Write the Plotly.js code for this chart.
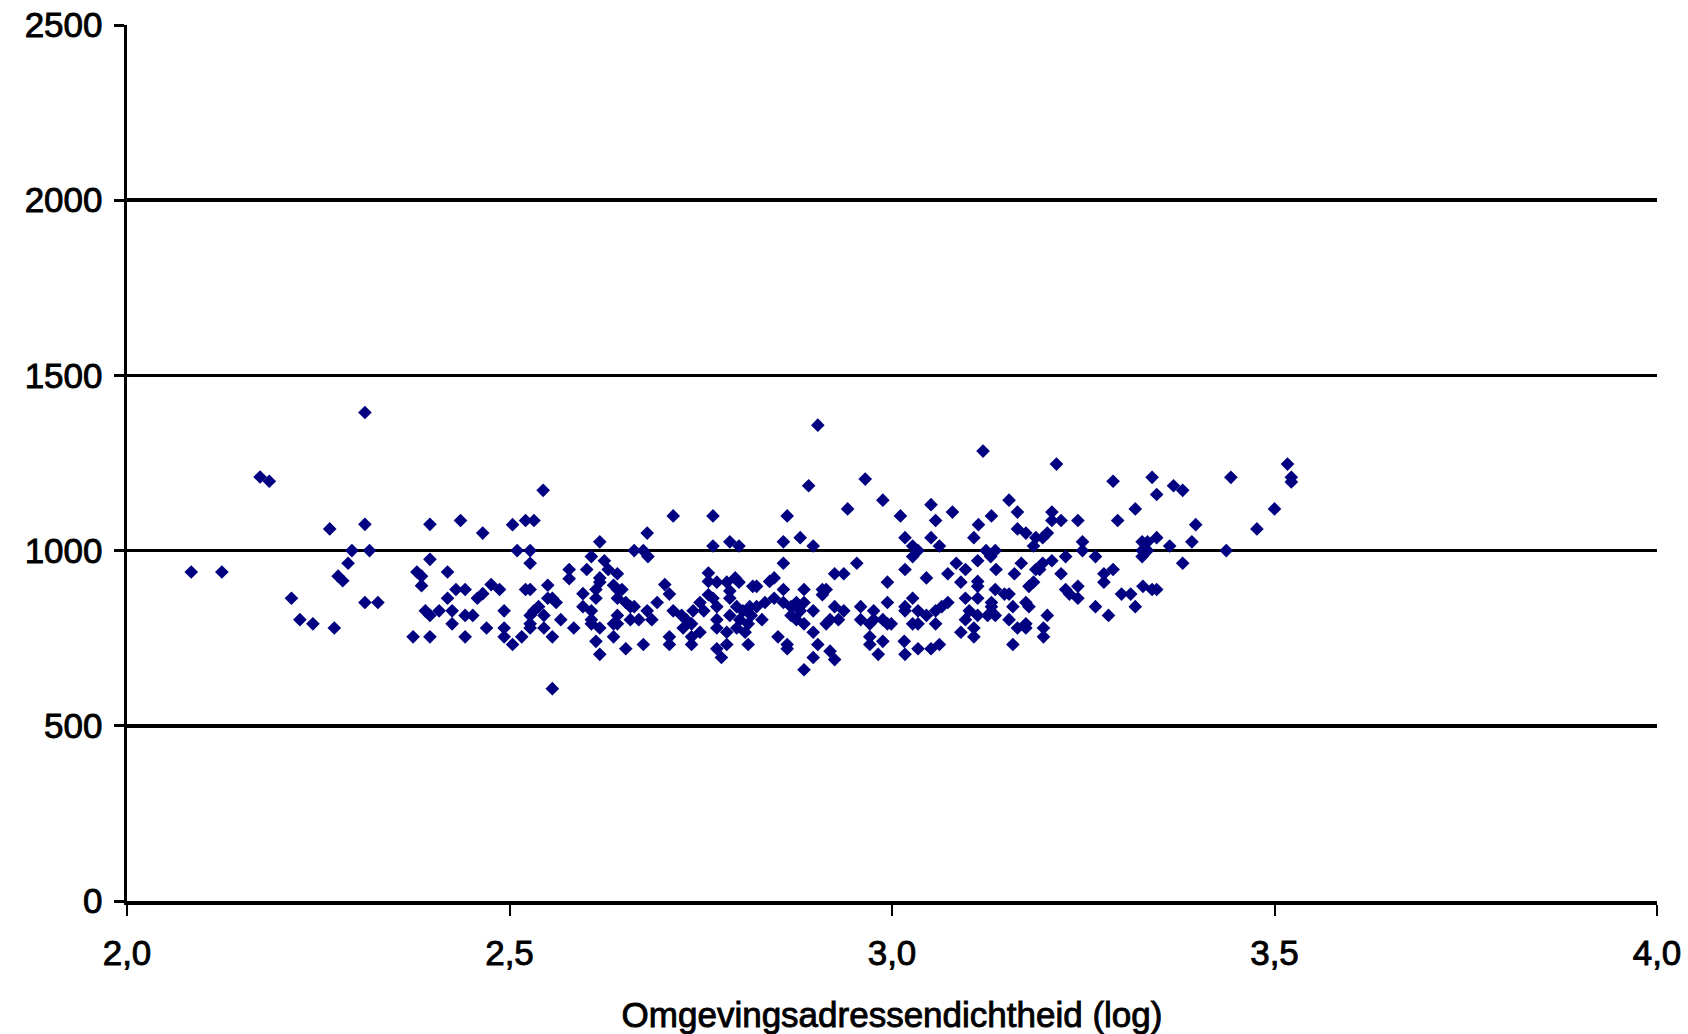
<!DOCTYPE html>
<html>
<head>
<meta charset="utf-8">
<script src="https://cdn.plot.ly/plotly-3.0.1.min.js"></script>
<style>
html,body{margin:0;padding:0;background:#fff;}
#chart{width:1688px;height:1034px;}
#chart .xtick text, #chart .ytick text, #chart .xtitle {stroke:#000; stroke-width:0.9px;}
</style>
</head>
<body>
<div id="chart"></div>
<script>
// Omgevingsadressendichtheid (log) vs value
const xValues = [
2.311,2.174,2.186,2.265,2.311,2.396,2.436,2.294,2.317,2.289,2.276,2.282,2.084,2.124,2.396,2.379,2.385,2.385,2.419,2.430,2.442,2.419,2.215,2.311,2.328,2.390,2.396,2.408,2.425,2.442,2.425,2.226,2.243,2.271,2.374,2.396,2.442,
2.544,2.465,2.504,2.521,2.532,2.510,2.527,2.527,2.714,2.766,2.680,2.618,2.663,2.675,2.681,2.766,2.788,2.800,2.607,2.624,2.578,2.578,2.601,2.629,2.641,2.618,2.618,2.760,2.760,2.771,2.784,2.795,2.800,2.788,2.818,2.476,2.487,2.465,2.458,2.521,2.527,2.550,2.550,2.556,2.561,2.596,2.613,2.613,2.636,2.641,2.647,2.641,2.703,2.709,2.693,2.493,2.452,2.538,2.532,2.527,2.545,2.527,2.527,2.545,2.567,2.596,2.607,2.607,2.607,2.618,2.636,2.641,2.641,2.652,2.658,2.663,2.658,2.669,2.680,2.686,2.714,2.725,2.731,2.740,2.749,2.760,2.766,2.754,2.771,2.788,2.797,2.805,2.814,2.788,2.801,2.812,2.797,2.808,2.812,2.771,2.771,2.784,2.784,2.771,2.777,2.727,2.738,2.749,2.738,2.738,2.709,2.709,2.675,2.652,2.636,2.613,2.618,2.584,2.556,2.516,2.504,2.493,2.493,2.470,2.556,
2.903,3.119,2.965,2.891,2.988,2.942,3.051,3.153,2.863,3.011,3.057,3.079,3.130,3.164,3.113,3.164,3.175,2.880,2.858,2.897,3.017,3.051,3.062,3.107,3.027,3.034,3.027,3.123,3.135,3.112,3.129,3.188,3.185,2.858,2.954,3.017,3.084,3.096,3.073,3.136,3.169,3.160,3.188,2.925,2.937,3.045,2.994,3.090,3.112,3.112,3.185,3.179,2.840,2.846,2.823,2.858,2.885,2.909,2.914,2.909,3.135,3.147,3.153,3.027,2.994,3.017,3.017,3.096,3.112,3.073,3.065,3.130,3.130,3.175,3.179,3.158,2.823,2.834,2.846,2.858,2.875,2.885,2.868,2.880,2.897,2.925,2.937,2.959,2.976,3.034,3.045,3.057,3.101,3.112,3.125,3.135,2.816,2.830,2.875,2.885,2.868,2.914,2.919,2.930,2.959,2.971,2.976,2.988,2.994,2.999,3.027,3.034,3.057,3.096,3.107,3.090,3.107,3.153,3.164,3.175,3.175,2.851,2.863,2.863,2.897,2.903,2.897,2.885,2.919,2.925,2.971,2.971,2.988,2.982,3.016,3.017,3.034,3.051,3.062,3.158,
3.215,3.289,3.340,3.368,3.380,3.346,3.443,3.517,3.522,3.522,3.318,3.500,3.209,3.209,3.221,3.243,3.295,3.397,3.477,3.203,3.197,3.249,3.249,3.327,3.334,3.346,3.327,3.334,3.327,3.363,3.392,3.437,3.380,3.227,3.266,3.209,3.197,3.193,3.221,3.289,3.277,3.277,3.243,3.227,3.232,3.243,3.328,3.340,3.346,3.300,3.312,3.266,3.283,3.318,3.203,3.198,3.198
];
const yValues = [
1394,1210,1198,1062,1075,1075,1086,1000,1000,964,927,914,939,939,975,939,927,900,939,889,889,864,864,852,852,828,815,828,828,815,791,803,791,779,754,754,754,
1172,1050,1074,1086,1086,1000,1000,964,1099,1099,1050,1025,1000,1000,983,1013,1025,1013,983,971,946,920,946,946,934,922,910,936,912,910,910,922,910,885,898,903,889,877,864,889,889,901,864,864,852,877,889,864,901,889,889,864,903,876,852,828,815,840,828,815,815,791,779,779,803,840,828,803,791,779,791,815,791,852,840,840,803,803,828,803,828,815,803,828,852,874,864,828,840,864,840,828,840,815,803,791,779,767,732,803,779,767,732,720,695,779,791,767,754,732,754,732,732,720,754,741,704,779,754,754,732,779,754,779,606,
1358,1284,1204,1185,1144,1119,1131,1144,1099,1099,1086,1110,1099,1110,1074,1062,1050,1037,1025,1013,1037,1037,1013,1037,1013,1000,983,1000,1000,971,983,1037,1013,964,964,946,964,946,934,946,964,934,946,934,934,922,910,910,912,898,910,898,912,922,898,889,889,889,889,874,889,876,876,864,852,840,828,864,864,852,840,852,840,852,840,840,840,852,864,852,852,852,840,828,828,840,828,840,828,828,815,828,828,815,815,815,815,803,803,791,815,791,803,803,803,791,803,803,791,791,791,791,791,803,779,767,754,803,779,791,779,754,732,720,767,732,695,660,713,689,754,732,741,704,741,704,720,720,732,732,
1247,1198,1209,1185,1172,1160,1209,1247,1209,1196,1119,1119,1110,1086,1086,1086,1086,1074,1062,1050,1037,1025,1000,1025,1025,1037,1000,1000,983,1013,1025,1000,964,983,983,971,964,946,934,946,934,910,898,889,876,864,898,889,889,876,876,840,815,840,815,779,754
];
const xTicks = [2.0, 2.5, 3.0, 3.5, 4.0];
const yTicks = [0, 500, 1000, 1500, 2000, 2500];
const xTitle = 'Omgevingsadressendichtheid (log)';

const fontFamily = '"Liberation Sans", Arial, sans-serif';

const trace = {
  type: 'scatter',
  mode: 'markers',
  x: xValues,
  y: yValues,
  marker: {symbol: 'diamond', size: 10.5, color: '#000080', line: {width: 0}},
  hoverinfo: 'x+y',
  showlegend: false
};

const layout = {
  width: 1688,
  height: 1034,
  margin: {l: 127, r: 31, t: 25, b: 133, pad: 0},
  paper_bgcolor: '#ffffff',
  plot_bgcolor: '#ffffff',
  separators: ', ',
  font: {family: fontFamily, size: 35, color: '#000000'},
  xaxis: {
    range: [2, 4],
    tickvals: xTicks,
    tickformat: '.1f',
    ticks: 'outside',
    ticklen: 11,
    tickwidth: 2,
    tickcolor: '#000',
    showline: true,
    linecolor: '#000',
    linewidth: 3.5,
    showgrid: false,
    zeroline: false,
    ticklabelstandoff: 7,
    tickfont: {family: fontFamily, size: 35, color: '#000'},
    title: {text: xTitle, font: {family: fontFamily, size: 35, color: '#000'}, standoff: 33}
  },
  yaxis: {
    range: [0, 2500],
    tickvals: yTicks,
    ticks: 'outside',
    ticklen: 10,
    tickwidth: 3,
    tickcolor: '#000',
    showline: true,
    linecolor: '#000',
    linewidth: 3.5,
    showgrid: true,
    gridcolor: '#000',
    gridwidth: 3.5,
    zeroline: false,
    ticklabelstandoff: 4,
    tickfont: {family: fontFamily, size: 35, color: '#000'}
  }
};

Plotly.newPlot('chart', [trace], layout, {displayModeBar: false, staticPlot: true});
</script>
</body>
</html>
